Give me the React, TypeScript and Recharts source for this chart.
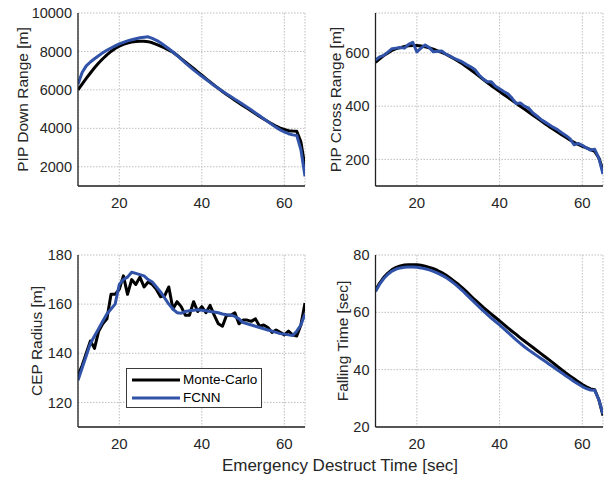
import React from "react";
import { LineChart, Line, XAxis, YAxis, CartesianGrid, Legend } from "recharts";

const xValues = [10, 11, 12, 13, 14, 15, 16, 17, 18, 19, 20, 21, 22, 23, 24, 25, 26, 27, 28, 29, 30, 31, 32, 33, 34, 35, 36, 37, 38, 39, 40, 41, 42, 43, 44, 45, 46, 47, 48, 49, 50, 51, 52, 53, 54, 55, 56, 57, 58, 59, 60, 61, 62, 63, 64, 65];
const xTicks = [20, 40, 60];

const downRangeMC = [6000, 6300, 6600, 6880, 7150, 7400, 7620, 7820, 8000, 8150, 8270, 8370, 8440, 8490, 8520, 8530, 8530, 8510, 8450, 8370, 8280, 8180, 8070, 7960, 7800, 7630, 7460, 7290, 7120, 6940, 6770, 6580, 6410, 6240, 6080, 5920, 5760, 5610, 5460, 5320, 5180, 5040, 4900, 4760, 4620, 4490, 4360, 4230, 4110, 4010, 3940, 3880, 3860, 3850, 3300, 2000];
const downRangeNN = [6300, 6900, 7250, 7450, 7620, 7780, 7930, 8060, 8180, 8290, 8390, 8470, 8550, 8610, 8660, 8710, 8740, 8760, 8680, 8580, 8450, 8300, 8140, 7970, 7790, 7600, 7410, 7220, 7040, 6870, 6710, 6550, 6390, 6230, 6080, 5930, 5790, 5650, 5510, 5380, 5240, 5100, 4950, 4800, 4650, 4500, 4350, 4200, 4050, 3920, 3810, 3720, 3660, 3630, 2900, 1500];

const crossRangeMC = [565, 578, 590, 600, 610, 616, 620, 624, 627, 628, 628, 626, 623, 619, 614, 608, 602, 595, 587, 578, 569, 559, 548, 537, 525, 513, 501, 489, 477, 466, 455, 444, 433, 422, 411, 400, 389, 378, 367, 356, 345, 334, 323, 313, 303, 293, 283, 273, 264, 256, 249, 243, 237, 230, 205, 160];
const crossRangeNN = [573, 585, 591, 603, 616, 618, 620, 618, 632, 640, 604, 618, 630, 620, 604, 606, 607, 596, 588, 580, 573, 566, 556, 548, 538, 518, 503, 492, 492, 475, 465, 455, 446, 430, 410, 412, 400, 393, 375, 363, 350, 340, 330, 320, 312, 300, 290, 278, 255, 260, 253, 243, 235, 238, 205, 145];

const cepMC = [131, 135, 140, 145, 142, 149, 152, 154, 164, 164, 166, 171.5, 164, 170, 168, 171, 167, 169, 168, 166, 163, 163.5, 167, 158, 161, 159, 155.5, 155.5, 161, 157, 159, 156.5, 159.5, 155.5, 152, 151, 155.5, 155.5, 156.5, 152, 153.5, 153.5, 153, 154, 151, 151.5, 150.5, 148.5, 149.5, 148.5, 147.5, 149, 147.5, 147, 151.5, 160.5];
const cepNN = [129, 134, 139, 144, 147, 150, 153, 156, 158, 160, 168, 170, 171, 173, 172.5, 172, 171.5, 170, 169, 167, 165, 162.5, 160, 158, 156.5, 156.3, 157, 157.3, 157.5, 157.7, 157.5, 157.3, 157, 156.8, 156.5, 156, 155.7, 155.6, 155, 154, 152.5, 152, 151.5, 151, 150.5, 150, 149.5, 149, 148.5, 148, 147.8, 147.5, 147.2, 149, 151.5, 156];

const fallMC = [67.8, 70.2, 72.2, 73.7, 74.9, 75.7, 76.2, 76.5, 76.6, 76.6, 76.6, 76.4, 76.1, 75.7, 75.2, 74.6, 73.9, 73.0, 72.0, 70.9, 69.8, 68.5, 67.2, 65.8, 64.4, 63.1, 61.8, 60.6, 59.4, 58.2, 57.0, 55.8, 54.6, 53.4, 52.3, 51.1, 50.0, 48.9, 47.8, 46.7, 45.6, 44.5, 43.4, 42.3, 41.1, 40.0, 38.9, 37.8, 36.8, 35.8, 34.8, 34.0, 33.3, 33.0, 29.5, 24.0];
const fallNN = [67.3, 69.8, 71.8, 73.3, 74.4, 75.1, 75.5, 75.7, 75.8, 75.8, 75.7, 75.5, 75.2, 74.8, 74.3, 73.7, 73.0, 72.2, 71.2, 70.1, 68.9, 67.6, 66.2, 64.8, 63.4, 62.0, 60.6, 59.3, 58.0, 56.8, 55.6, 54.3, 53.0, 51.7, 50.4, 49.2, 48.0, 46.9, 45.9, 44.9, 43.9, 42.9, 41.9, 40.9, 39.9, 38.9, 37.9, 36.9, 35.9, 35.0, 34.1, 33.4, 32.9, 32.8, 29.5, 24.5];

const downTicks = [2000, 4000, 6000, 8000, 10000];
const crossTicks = [200, 400, 600];
const cepTicks = [120, 140, 160, 180];
const fallTicks = [20, 40, 60, 80];

const seriesNames = ["Monte-Carlo", "FCNN"];
const xLabel = "Emergency Destruct Time [sec]";

const FONT = "'Liberation Sans', Arial, Helvetica, sans-serif";
const TEXT = "#262626";
const BLUE = "#3052a8";

const build = (a: number[], b: number[]) => xValues.map((x, i) => ({ x, mc: a[i], nn: b[i] }));

type PanelProps = {
  data: { x: number; mc: number; nn: number }[];
  left: number;
  top: number;
  width: number;
  height: number;
  mTop: number;
  mRight: number;
  yW: number;
  xH: number;
  yDomain: [number, number];
  yTicks: number[];
  yLabel: string;
  yLabelX: number;
  legend?: boolean;
};

const LegendBox = () => (
  <div
    style={{
      width: 134,
      height: 38,
      border: "1px solid #3a3a3a",
      background: "#fff",
      position: "relative",
      fontFamily: FONT,
      fontSize: 13.5,
      color: "#000",
    }}
  >
    <svg width={134} height={38} style={{ position: "absolute", left: 0, top: 0 }}>
      <line x1={5} x2={53} y1={11} y2={11} stroke="#000" strokeWidth={3} />
      <line x1={5} x2={53} y1={29} y2={29} stroke={BLUE} strokeWidth={3} />
    </svg>
    <span style={{ position: "absolute", left: 56, top: 3, lineHeight: "16px" }}>{seriesNames[0]}</span>
    <span style={{ position: "absolute", left: 56, top: 21, lineHeight: "16px" }}>{seriesNames[1]}</span>
  </div>
);

const Panel = (p: PanelProps) => {
  const plotH = p.height - p.mTop - p.xH;
  const cy = p.mTop + plotH / 2;
  return (
    <div style={{ position: "absolute", left: p.left, top: p.top }}>
      <LineChart
        width={p.width}
        height={p.height}
        data={p.data}
        margin={{ top: p.mTop, right: p.mRight, bottom: 0, left: 0 }}
      >
        <CartesianGrid stroke="#b8b8b8" strokeDasharray="1.5 1.5" strokeWidth={0.9} />
        <XAxis
          dataKey="x"
          type="number"
          domain={[10, 65]}
          ticks={xTicks}
          allowDataOverflow
          height={p.xH}
          tickLine={false}
          tickSize={6}
          tickMargin={5}
          axisLine={{ stroke: "#222", strokeWidth: 1.3 }}
          tick={{ fill: TEXT, fontSize: 15, fontFamily: FONT }}
        />
        <YAxis
          type="number"
          domain={p.yDomain}
          ticks={p.yTicks}
          allowDataOverflow
          width={p.yW}
          tickLine={false}
          tickSize={3}
          tickMargin={3}
          axisLine={{ stroke: "#222", strokeWidth: 1.3 }}
          tick={{ fill: TEXT, fontSize: 14.5, fontFamily: FONT }}
          label={{
            content: () => (
              <text
                x={p.yLabelX}
                y={cy}
                transform={`rotate(-90 ${p.yLabelX} ${cy})`}
                textAnchor="middle"
                dominantBaseline="central"
                fill={TEXT}
                fontSize={15.5}
                fontFamily={FONT}
              >
                {p.yLabel}
              </text>
            ),
          }}
        />
        {p.legend ? (
          <Legend
            layout="vertical"
            align="center"
            verticalAlign="middle"
            wrapperStyle={{ position: "absolute", left: 126, top: 133, width: 136, height: 40 }}
            content={() => <LegendBox />}
          />
        ) : null}
        <Line
          type="linear"
          dataKey="mc"
          name={seriesNames[0]}
          stroke="#000"
          strokeWidth={3}
          dot={false}
          strokeLinejoin="round"
          isAnimationActive={false}
        />
        <Line
          type="linear"
          dataKey="nn"
          name={seriesNames[1]}
          stroke={BLUE}
          strokeWidth={3}
          dot={false}
          strokeLinejoin="round"
          isAnimationActive={false}
        />
      </LineChart>
    </div>
  );
};

export default function App() {
  return (
    <div
      style={{
        position: "absolute",
        left: 0,
        top: 0,
        width: 607,
        height: 479,
        background: "#fff",
        overflow: "hidden",
        fontFamily: FONT,
      }}
    >
      <Panel
        data={build(downRangeMC, downRangeNN)}
        left={0}
        top={0}
        width={310}
        height={235}
        mTop={13}
        mRight={5}
        yW={78}
        xH={49}
        yDomain={[1000, 10000]}
        yTicks={downTicks}
        yLabel="PIP Down Range [m]"
        yLabelX={22}
      />
      <Panel
        data={build(crossRangeMC, crossRangeNN)}
        left={300}
        top={0}
        width={307}
        height={235}
        mTop={13}
        mRight={4}
        yW={75.5}
        xH={49}
        yDomain={[100, 750]}
        yTicks={crossTicks}
        yLabel="PIP Cross Range [m]"
        yLabelX={35}
      />
      <Panel
        data={build(cepMC, cepNN)}
        left={0}
        top={235}
        width={310}
        height={244}
        mTop={20}
        mRight={5}
        yW={78}
        xH={52}
        yDomain={[110, 180]}
        yTicks={cepTicks}
        yLabel="CEP Radius [m]"
        yLabelX={36}
        legend
      />
      <Panel
        data={build(fallMC, fallNN)}
        left={300}
        top={235}
        width={307}
        height={244}
        mTop={20}
        mRight={4}
        yW={75.5}
        xH={52}
        yDomain={[20, 80]}
        yTicks={fallTicks}
        yLabel="Falling Time [sec]"
        yLabelX={42}
      />
      <div
        style={{
          position: "absolute",
          left: 340,
          top: 456,
          transform: "translateX(-50%)",
          whiteSpace: "nowrap",
          fontSize: 17,
          lineHeight: "normal",
          color: TEXT,
          fontFamily: FONT,
        }}
      >
        {xLabel}
      </div>
    </div>
  );
}
